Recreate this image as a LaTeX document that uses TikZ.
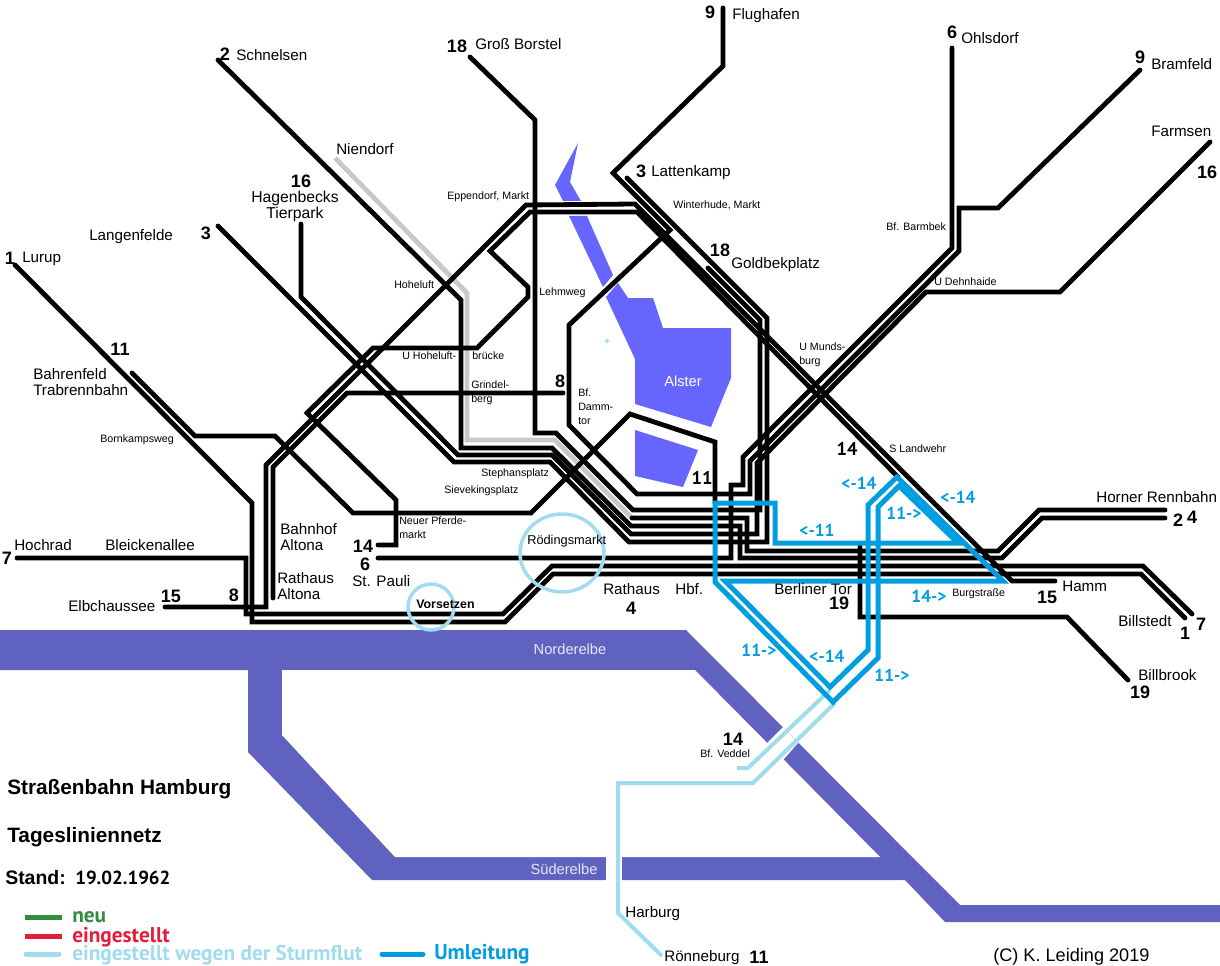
\documentclass[tikz,border=0pt]{standalone}
\usepackage{fontspec}
\setmainfont{Liberation Sans}
\newfontfamily\dinfont{PT Sans}
\definecolor{hhElbe}  {RGB}{ 96, 98,192}
\definecolor{hhAlster}{RGB}{102,102,255}
\definecolor{hhBlue}  {RGB}{  0,158,224}
\definecolor{hhStorm} {RGB}{160,220,238}
\definecolor{hhGrey}  {RGB}{200,200,200}
\definecolor{hhGreen} {RGB}{ 50,140, 60}
\definecolor{hhRed}   {RGB}{225, 30, 60}
\begin{document}
\begin{tikzpicture}[
  x=0.75pt,y=-0.75pt,
  every node/.style={inner sep=0pt,anchor=west},
  tram/.style ={line width=3.6pt,line cap=round,line join=miter,miter limit=10},
  storm/.style={line width=3pt,hhStorm,line join=miter,miter limit=10},
  detour/.style={line width=3.75pt,hhBlue,line join=miter,miter limit=10},
  key/.style  ={line width=3.75pt},
  stop/.style ={font=\fontsize{11.4}{13}\selectfont,align=left},
  halt/.style ={font=\fontsize{8}{10.5}\selectfont,align=left},
  num/.style  ={font=\fontsize{13.5}{14}\selectfont\bfseries,anchor=center},
  din/.style  ={font=\fontsize{13.8}{14}\selectfont\dinfont\bfseries,anchor=center},
  via/.style  ={font=\fontsize{13}{14}\selectfont\dinfont\bfseries,text=hhBlue,anchor=center},
  water/.style={font=\fontsize{11}{13}\selectfont,text=white!85!hhElbe,anchor=center},
  head/.style ={font=\fontsize{15.6}{17}\selectfont\bfseries},
  leg/.style  ={font=\fontsize{16}{17}\selectfont\dinfont\bfseries}
]
\useasboundingbox (0,0) rectangle (1220,966);
% water
\fill[hhElbe] (0,630) -- (686,630) -- (960,905) -- (1220,905) -- (1220,922) -- (945,922)
  -- (905,880) -- (372,880) -- (248,752) -- (248,670) -- (0,670) -- cycle;
\fill[white] (282,670) -- (695,670) -- (880,857) -- (395,857) -- (282,735) -- cycle;
\fill[white] (783,727) -- (767,743) -- (783,760) -- (798,743) -- cycle;
\fill[white] (606,855) rectangle (622,882);
\fill[hhAlster] (578,143) -- (570,182) -- (581,201) -- (563,201) -- (555,185) -- cycle;
\fill[hhAlster] (569,216) -- (587,216) -- (613,275) -- (603,287) -- cycle;
\fill[hhAlster] (606,297) -- (618,283) -- (628,298) -- (653,298) -- (663,328) -- (731,328)
  -- (731,378) -- (711,427) -- (635,404) -- (635,359) -- cycle;
\fill[hhAlster] (635,430) -- (698,450) -- (683,487) -- (635,476) -- cycle;
\draw[hhStorm,line width=1pt] (607,341) circle (1.5);
% closed after the flood
\draw[storm] (737,768) -- (748,768) -- (830,690);
\draw[storm] (835,703) -- (753,783) -- (618,783) -- (618,913) -- (662,956);
\draw[tram,hhGrey,line cap=butt] (335,158) -- (467,293) -- (467,440) -- (555,440) -- (632,518);
% lines
\draw[tram] (15,265) -- (252,503) -- (252,622) -- (505,622) -- (553,574) -- (1141,574) -- (1185,618);
\draw[tram] (17,558) -- (246,558) -- (246,614) -- (503,614) -- (552,566) -- (1143,566) -- (1192,614);
\draw[tram] (218,60) -- (461,300) -- (461,448) -- (552,448) -- (631,526) -- (740,526) -- (740,558)
  -- (1002,558) -- (1042,518) -- (1165,518);
\draw[tram] (632,518) -- (747,518) -- (747,551) -- (998,551) -- (1039,510) -- (1165,510);
\draw[tram] (218,226) -- (454,462) -- (550,462) -- (629,542) -- (767,542) -- (767,318) -- (627,178);
\draw[tram] (301,224) -- (301,297) -- (458,455) -- (552,455) -- (631,534) -- (757,534) -- (757,463)
  -- (926,292) -- (1060,292) -- (1210,142);
\draw[tram] (378,558) -- (731,558) -- (731,485) -- (743,485) -- (743,457) -- (952,248) -- (952,48);
\draw[tram] (1140,70) -- (998,208) -- (959,208) -- (959,251) -- (750,461) -- (750,494) -- (637,494)
  -- (569,425) -- (569,325) -- (670,230) -- (613,173) -- (723,66) -- (723,8);
\draw[tram] (273,598) -- (273,467) -- (347,393) -- (563,393);
\draw[tram] (470,57) -- (535,120) -- (535,433) -- (556,433) -- (633,510) -- (760,510) -- (760,320) -- (708,268);
\draw[tram] (132,373) -- (195,436) -- (275,436) -- (353,513) -- (531,513) -- (630,414) -- (715,442) -- (715,503);
\draw[tram] (378,545) -- (396,545) -- (396,500) -- (307,413) -- (373,348) -- (477,348) -- (528,297)
  -- (528,287) -- (490,251) -- (530,212) -- (637,212) -- (898,477);
\draw[tram] (165,607) -- (266,607) -- (266,465) -- (526,205) -- (635,204) -- (1012,581) -- (1055,581);
\draw[tram] (860,547) -- (860,617) -- (1067,617) -- (1128,680);
\draw[hhStorm,line width=2.6pt] (562,553) ellipse (42 and 39);
\draw[hhStorm,line width=2.6pt] (431,607) circle (23);
% detours
\draw[detour] (715,503) -- (775,503) -- (775,543) -- (958,543) -- (899,486) -- (878,507) -- (878,658)
  -- (833,702) -- (715,582) -- cycle;
\draw[detour] (725,581) -- (1003,581) -- (897,477) -- (868,505) -- (868,650) -- (830,687) -- cycle;
% legend
\draw[key,hhGreen] (25,917) -- (62,917);
\draw[key,hhRed] (25,936) -- (62,936);
\draw[key,hhStorm,line cap=round] (26,954) -- (59,954);
\draw[key,hhBlue,line cap=round] (382,954) -- (423,954);

\node[num] (nFlug) at (710,12) {9};
\node[stop] (tFlug) at (732,16) {Flughafen};
\node[num] (nBorstel) at (457,46) {18};
\node[stop] (tBorstel) at (475,44) {Groß Borstel};
\node[num] (nSchnel) at (225,54) {2};
\node[stop] (tSchnel) at (236,55) {Schnelsen};
\node[num] (nOhls) at (952,32) {6};
\node[stop] (tOhls) at (961,38) {Ohlsdorf};
\node[num] (nBram) at (1140,57) {9};
\node[stop] (tBram) at (1151,64) {Bramfeld};
\node[stop] (tFarm) at (1151,131) {Farmsen};
\node[num] (nFarm) at (1207,172) {16};
\node[stop] (tNien) at (336,149) {Niendorf};
\node[num] (nLatt) at (641,171) {3};
\node[stop] (tLatt) at (651,173) {Lattenkamp};
\node[num] (nHag) at (301,181) {16};
\node[stop,anchor=center,align=center,font=\fontsize{11.8}{13}\selectfont] (tHag) at (295,206) {Hagenbecks\\[-1pt]Tierpark};
\node[stop] (tLang) at (89,237) {Langenfelde};
\node[num] (nLang) at (206,233) {3};
\node[num] (nLurup) at (10,258) {1};
\node[stop] (tLurup) at (22,259) {Lurup};
\node[num] (nBahr) at (120,349) {11};
\node[stop] (tBahr) at (33,382) {Bahrenfeld\\[-1pt]Trabrennbahn};
\node[halt] (hEpp) at (447,197) {Eppendorf, Markt};
\node[halt] (hWint) at (673,205) {Winterhude, Markt};
\node[halt] (hBarm) at (886,227) {Bf. Barmbek};
\node[halt] (hDehn) at (934,282) {U Dehnhaide};
\node[halt] (hHoh) at (394,285) {Hoheluft};
\node[halt] (hLehm) at (539,293) {Lehmweg};
\node[halt] (hHohU) at (402,356) {U Hoheluft-};
\node[halt] (hHohB) at (472,356) {brücke};
\node[halt] (hMund) at (799,355) {U Munds-\\burg};
\node[halt] (hGrin) at (471,393) {Grindel-\\berg};
\node[num] (nDamm) at (560,381) {8};
\node[halt] (hDamm) at (578,407) {Bf.\\Damm-\\tor};
\node[halt] (hBorn) at (100,440) {Bornkampsweg};
\node[halt] (hLand) at (889,449) {S Landwehr};
\node[halt] (hSteph) at (481,474) {Stephansplatz};
\node[halt] (hSiev) at (444,491) {Sievekingsplatz};
\node[halt] (hPferd) at (399,528) {Neuer Pferde-\\markt};
\node[halt,font=\fontsize{9.6}{11}\selectfont] (hRoed) at (527,541) {Rödingsmarkt};
\node[halt,font=\fontsize{9.3}{11}\selectfont\bfseries] (hVors) at (416,604) {Vorsetzen};
\node[halt] (hBurg) at (952,594) {Burgstraße};
\node[num] (nGold) at (720,250) {18};
\node[stop] (tGold) at (731,265) {Goldbekplatz};
\node[din] (nLand) at (847,449) {14};
\node[din] (nAlster) at (702,478) {11};
\node[stop] (tBhf) at (280,537) {Bahnhof\\[-1pt]Altona};
\node[stop] (tRath) at (277,586) {Rathaus\\[-1pt]Altona};
\node[num] (nPferd) at (363,546) {14};
\node[num] (nPauli) at (365,564) {6};
\node[stop] (tPauli) at (352,581) {St. Pauli};
\node[stop] (tHoch) at (14,545) {Hochrad};
\node[num] (nHoch) at (7,558) {7};
\node[stop] (tBleick) at (105,545) {Bleickenallee};
\node[stop] (tElb) at (68,606) {Elbchaussee};
\node[num] (nElb) at (171,596) {15};
\node[num] (nAltona) at (234,595) {8};
\node[stop] (tRat) at (603,589) {Rathaus};
\node[num] (nRat) at (631,608) {4};
\node[stop] (tHbf) at (675,589) {Hbf.};
\node[stop] (tBerl) at (774,589) {Berliner Tor};
\node[num] (nBerl) at (839,603) {19};
\node[stop] (tHorn) at (1096,497) {Horner Rennbahn};
\node[num] (nHornA) at (1178,520) {2};
\node[num] (nHornB) at (1192,517) {4};
\node[stop] (tHamm) at (1062,586) {Hamm};
\node[num] (nHamm) at (1047,597) {15};
\node[stop] (tBill) at (1118,621) {Billstedt};
\node[num] (nBillA) at (1185,633) {1};
\node[num] (nBillB) at (1201,624) {7};
\node[stop] (tBrook) at (1138,675) {Billbrook};
\node[num] (nBrook) at (1140,692) {19};
\node[num] (nVedd) at (733,739) {14};
\node[halt] (hVedd) at (700,754) {Bf. Veddel};
\node[stop] (tHarb) at (625,914) {Harburg};
\node[stop] (tRoen) at (664,958) {Rönneburg};
\node[num] (nRoen) at (759,957) {11};
\node[water] (wNord) at (570,649) {Norderelbe};
\node[water] (wSued) at (564,869) {Süderelbe};
\node[water,text=white] (wAls) at (683,381) {Alster};
\node[via] (vA) at (859,483) {<-14};
\node[via] (vB) at (958,497) {<-14};
\node[via] (vC) at (904,513) {11->};
\node[via] (vD) at (817,530) {<-11};
\node[via] (vE) at (759,650) {11->};
\node[via] (vF) at (827,656) {<-14};
\node[via] (vG) at (929,596) {14->};
\node[via] (vH) at (892,675) {11->};
\node[head] (tTitle) at (7,789) {Straßenbahn Hamburg};
\node[head] (tNetz) at (7,837) {Tagesliniennetz};
\node[head,font=\fontsize{14.6}{16}\selectfont\bfseries] (tStand) at (5,878) {Stand:};
\node[din,anchor=west,font=\fontsize{14.2}{15}\selectfont\dinfont\bfseries] (tDate) at (75,878) {19.02.1962};
\node[leg,text=hhGreen] (lNeu) at (72,917) {neu};
\node[leg,text=hhRed] (lEin) at (72,937) {eingestellt};
\node[leg,text=hhStorm] (lSturm) at (72,955) {eingestellt wegen der Sturmflut};
\node[leg,text=hhBlue] (lUm) at (434,954) {Umleitung};
\node[stop,font=\fontsize{13.6}{15}\selectfont] (tCopy) at (993,957) {(C) K. Leiding 2019};
\end{tikzpicture}
\end{document}
